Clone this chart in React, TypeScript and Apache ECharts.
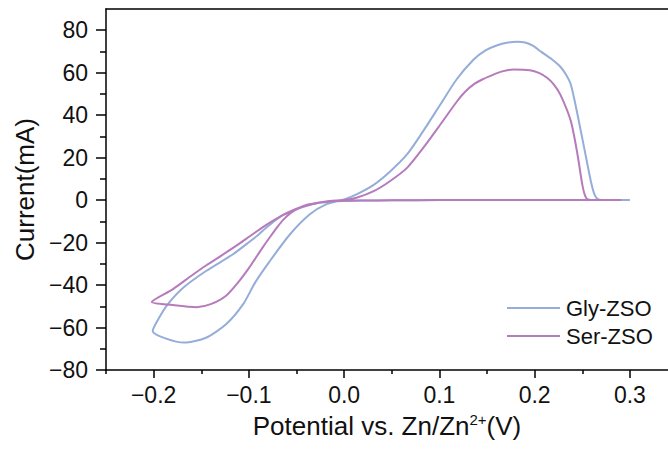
import React, { useEffect, useRef } from "react";
import * as echarts from "echarts";

const glyPotential = [0.300, 0.250, 0.200, 0.150, 0.100, 0.050, 0.020, 0.000, -0.015, -0.029, -0.045, -0.064, -0.080, -0.090, -0.099, -0.117, -0.145, -0.169, -0.185, -0.195, -0.201, -0.168, -0.145, -0.124, -0.106, -0.093, -0.078, -0.057, -0.036, -0.019, 0.000, 0.013, 0.031, 0.048, 0.066, 0.083, 0.101, 0.118, 0.136, 0.148, 0.160, 0.172, 0.182, 0.190, 0.198, 0.207, 0.218, 0.227, 0.233, 0.238, 0.245, 0.252, 0.259, 0.263, 0.267, 0.275, 0.300];
const glyCurrent = [0, 0, 0, 0, 0, -0.1, -0.2, -0.4, -0.8, -1.5, -3.5, -7, -12.3, -16.3, -19.5, -25.6, -33.4, -41.3, -49, -56, -61.6, -67.1, -64.8, -58.5, -49, -38.5, -28.7, -16.2, -6.7, -2, 0.3, 2.7, 7.2, 13.4, 21.5, 32.5, 45, 56.8, 66.2, 70.4, 72.8, 74.2, 74.6, 74.2, 72.7, 69.8, 66.3, 62.8, 59, 54.4, 40.3, 24.6, 8.9, 2.5, 0.3, 0, 0];

const serPotential = [0.291, 0.250, 0.200, 0.150, 0.100, 0.050, 0.020, 0.000, -0.015, -0.029, -0.047, -0.064, -0.080, -0.090, -0.099, -0.110, -0.125, -0.145, -0.160, -0.180, -0.202, -0.180, -0.155, -0.140, -0.124, -0.110, -0.100, -0.094, -0.086, -0.078, -0.070, -0.064, -0.056, -0.047, -0.038, -0.029, -0.015, 0.000, 0.013, 0.031, 0.048, 0.066, 0.083, 0.101, 0.118, 0.127, 0.136, 0.145, 0.153, 0.165, 0.178, 0.195, 0.205, 0.213, 0.220, 0.227, 0.238, 0.245, 0.250, 0.253, 0.256, 0.265, 0.291];
const serCurrent = [0, 0, 0, 0, 0, -0.1, -0.2, -0.3, -0.7, -1.5, -3.6, -7, -11.2, -14.2, -17, -20.5, -25, -30.8, -35.5, -42, -48, -49.4, -50.4, -49, -45, -38, -32, -28, -22.6, -17.5, -12.6, -9.3, -6, -3.6, -2.1, -1.3, -0.4, 0, 1.1, 4.2, 8.9, 15.2, 24.6, 35.6, 46.2, 51, 54.5, 56.8, 58.4, 60.5, 61.5, 61.2, 59.8, 57.6, 54.5, 49.7, 37.2, 21.5, 7.4, 2, 0.3, 0, 0];

const seriesNames = ["Gly-ZSO", "Ser-ZSO"];
const xMajorTicks = [-0.2, -0.1, 0.0, 0.1, 0.2, 0.3];
const xMinorTicks = [-0.25, -0.15, -0.05, 0.05, 0.15, 0.25];
const yMajorTicks = [-80, -60, -40, -20, 0, 20, 40, 60, 80];
const yMinorTicks = [-70, -50, -30, -10, 10, 30, 50, 70];

const FONT = '"Liberation Sans", Arial, Helvetica, sans-serif';
const BLUE = "#95add9";
const PURPLE = "#b67bbb";

const fmtMinus = (s: string) => s.replace("-", "\u2212");

export default function App() {
  const ref = useRef<HTMLDivElement>(null);
  useEffect(() => {
    if (!ref.current) return;
    const chart = echarts.init(ref.current, undefined, { renderer: "svg" });
    const gly = glyPotential.map((p, i) => [p, glyCurrent[i]]);
    const ser = serPotential.map((p, i) => [p, serCurrent[i]]);
    const axisLine = { show: true, onZero: false, lineStyle: { color: "#000", width: 1.5 } };
    const tickStyle = { color: "#000", width: 1.5 };
    chart.setOption({
      animation: false,
      backgroundColor: "#fff",
      grid: { left: 106, right: 0, top: 9, bottom: 80, containLabel: false },
      legend: {
        data: seriesNames,
        orient: "vertical",
        left: 507,
        top: 296,
        padding: 0,
        icon: "rect",
        itemWidth: 53,
        itemHeight: 2,
        itemGap: 4,
        textStyle: { fontFamily: FONT, fontSize: 22, color: "#111", lineHeight: 24, padding: [0, 0, 0, 1] },
      },
      xAxis: [
        {
          type: "value",
          min: -0.25,
          max: 0.34,
          position: "bottom",
          axisLine,
          splitLine: { show: false },
          axisTick: { show: true, length: 8, customValues: xMajorTicks, lineStyle: tickStyle },
          axisLabel: {
            customValues: xMajorTicks,
            margin: 13,
            fontFamily: FONT,
            fontSize: 23,
            color: "#111",
            formatter: (v: number) => fmtMinus(v.toFixed(1)),
          },
          name: "Potential vs. Zn/Zn{sup|2+}(V)",
          nameLocation: "middle",
          nameGap: 42,
          nameTextStyle: {
            fontFamily: FONT,
            fontSize: 26,
            color: "#111",
            rich: {
              sup: { fontFamily: FONT, fontSize: 15, color: "#111", verticalAlign: "top", padding: [0, 0, 12, 0] },
            },
          },
        },
        {
          type: "value",
          min: -0.25,
          max: 0.34,
          position: "bottom",
          axisLine: { show: false, onZero: false },
          splitLine: { show: false },
          axisTick: { show: true, length: 4, customValues: xMinorTicks, lineStyle: tickStyle },
          axisLabel: { show: false },
        },
        {
          type: "value",
          min: -0.25,
          max: 0.34,
          position: "top",
          axisLine,
          splitLine: { show: false },
          axisTick: { show: false },
          axisLabel: { show: false },
        },
      ],
      yAxis: [
        {
          type: "value",
          min: -80,
          max: 90,
          position: "left",
          axisLine,
          splitLine: { show: false },
          axisTick: { show: true, length: 10, customValues: yMajorTicks, lineStyle: tickStyle },
          axisLabel: {
            customValues: yMajorTicks,
            margin: 18,
            fontFamily: FONT,
            fontSize: 23,
            color: "#111",
            formatter: (v: number) => fmtMinus(String(v)),
          },
          name: "Current(mA)",
          nameLocation: "middle",
          nameGap: 64,
          nameTextStyle: { fontFamily: FONT, fontSize: 26, color: "#111" },
        },
        {
          type: "value",
          min: -80,
          max: 90,
          position: "left",
          axisLine: { show: false, onZero: false },
          splitLine: { show: false },
          axisTick: { show: true, length: 6, customValues: yMinorTicks, lineStyle: tickStyle },
          axisLabel: { show: false },
        },
      ],
      series: [
        {
          name: seriesNames[0],
          type: "line",
          xAxisIndex: 0,
          yAxisIndex: 0,
          data: gly,
          symbol: "none",
          smooth: 0.25,
          lineStyle: { color: BLUE, width: 2 },
          itemStyle: { color: BLUE },
          z: 2,
        },
        {
          name: seriesNames[1],
          type: "line",
          xAxisIndex: 0,
          yAxisIndex: 0,
          data: ser,
          symbol: "none",
          smooth: 0.25,
          lineStyle: { color: PURPLE, width: 2 },
          itemStyle: { color: PURPLE },
          z: 3,
        },
      ],
    });
    return () => chart.dispose();
  }, []);
  return <div ref={ref} style={{ position: "fixed", left: 0, top: 0, width: 668, height: 450 }} />;
}
